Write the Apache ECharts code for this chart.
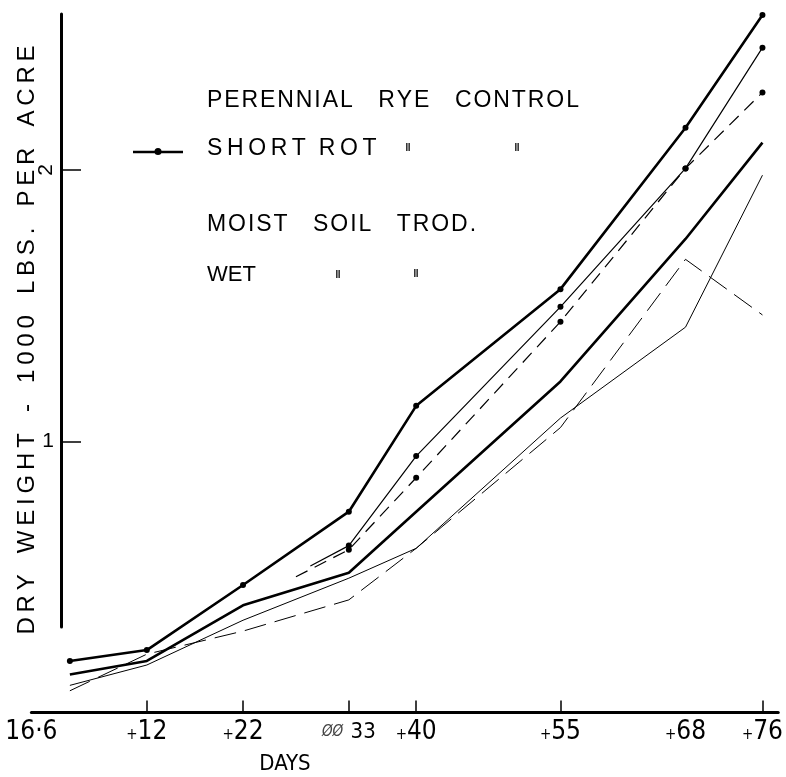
<!DOCTYPE html>
<html><head><meta charset="utf-8">
<script src="https://cdn.jsdelivr.net/npm/echarts@6/dist/echarts.min.js"></script>
<style>html,body{margin:0;padding:0;background:#fff}#c{width:786px;height:777px}</style>
</head><body><div id="c"></div>
<script>
// ---- data (days after 16·6, dry weight in 1000 lbs per acre) ----
const days = [4, 12, 22, 33, 40, 55, 68, 76];
const daysB = [29, 33, 40, 55, 68, 76];
const daysC = [27.5, 33, 40, 55, 68, 76];
const thickDotted = [0.19, 0.23, 0.47, 0.74, 1.13, 1.56, 2.155, 2.57];
const thinDotted = [0.54, 0.615, 0.945, 1.495, 2.005, 2.45];
const dashedDotted = [0.50, 0.60, 0.865, 1.44, 2.005, 2.285];
const thickPlain = [0.14, 0.19, 0.395, 0.515, 0.74, 1.22, 1.745, 2.10];
const thinPlain = [0.10, 0.175, 0.34, 0.495, 0.605, 1.085, 1.42, 1.98];
const dashedPlain = [0.08, 0.215, 0.30, 0.415, 0.605, 1.05, 1.67, 1.465];
const xTickDays = [12, 22, 33, 40, 55, 76];
const xLabelDays = [0, 12, 22, 33, 40, 55, 68, 76];
const xLabelText = {0: '16·6', 12: '+12', 22: '+22', 33: '33', 40: '+40', 55: '+55', 68: '+68', 76: '+76'};
const yTicks = [1, 2];

const FONT = "'Liberation Sans', Arial, sans-serif";
const NARROW = "'Liberation Sans Narrow', 'DejaVu Sans Condensed', 'Liberation Sans', sans-serif";
const yMax = 2.574;

function pts(xs, vs, firstDot) {
  return xs.map((d, i) => ({ value: [d, vs[i]], symbolSize: i >= firstDot ? 6 : 0 }));
}
function spaced(s, sep, wsep) {
  return s.split(' ').map(w => w.split('').join(sep)).join(wsep);
}

const chart = echarts.init(document.getElementById('c'), null, { renderer: 'canvas' });

const lineSeries = (name, data, width, type, sym) => ({
  name, type: 'line', xAxisIndex: 0, yAxisIndex: 0, data,
  symbol: sym ? 'circle' : 'none', showSymbol: !!sym,
  lineStyle: { color: '#000', width, type },
  itemStyle: { color: '#000' },
  silent: true
});

chart.setOption({
  animation: false,
  backgroundColor: '#fff',
  grid: [
    { left: 31.4, right: 0, top: 14, bottom: 64.5 },
    { left: 61, right: 0, top: 14, bottom: 150 }
  ],
  xAxis: [
    {
      gridIndex: 0, type: 'value', min: 0, max: 77.64,
      axisLine: { show: true, lineStyle: { color: '#000', width: 3 } },
      axisTick: { show: true, inside: true, length: 12, customValues: xTickDays, lineStyle: { color: '#000', width: 1.5 } },
      axisLabel: {
        show: true, customValues: xLabelDays, margin: 7, color: '#000', fontFamily: NARROW, fontSize: 26,
        formatter: v => {
          const t = xLabelText[v];
          if (v === 33) return '{s|ØØ} {m|33}';
          if (t && t[0] === '+') return '{p|+}{n|' + t.slice(1) + '}';
          return '{n|' + t + '}';
        },
        rich: {
          p: { fontSize: 15, fontFamily: NARROW, color: '#000', padding: [6, 0, 0, 0] },
          n: { fontSize: 26, fontFamily: NARROW, color: '#000' },
          m: { fontSize: 22, fontFamily: NARROW, color: '#000' },
          s: { fontSize: 15, fontStyle: 'italic', fontFamily: NARROW, color: '#444' }
        }
      },
      splitLine: { show: false }
    },
    { gridIndex: 1, type: 'value', min: 0, max: 77.64, show: false }
  ],
  yAxis: [
    { gridIndex: 0, type: 'value', min: 0, max: yMax, show: false },
    {
      gridIndex: 1, type: 'value', min: 0.317, max: yMax, position: 'left',
      axisLine: { show: true, onZero: false, lineStyle: { color: '#000', width: 3 } },
      axisTick: { show: true, inside: true, length: 20, customValues: yTicks, lineStyle: { color: '#000', width: 1.5 } },
      axisLabel: { show: true, customValues: [2], rotate: 90, margin: 4, color: '#000', fontFamily: FONT, fontSize: 21 },
      splitLine: { show: false }
    },
    {
      gridIndex: 1, type: 'value', min: 0.317, max: yMax, position: 'left',
      axisLine: { show: false, onZero: false },
      axisTick: { show: false },
      axisLabel: { show: true, customValues: [1], margin: 7, color: '#000', fontFamily: FONT, fontSize: 21 },
      splitLine: { show: false }
    }
  ],
  series: [
    lineSeries('Short rot', pts(days, thickDotted, 0), 2.6, 'solid', true),
    lineSeries('Series B', pts(daysB, thinDotted, 1), 1.2, 'solid', true),
    lineSeries('Series C', pts(daysC, dashedDotted, 1), 1.2, [13, 8], true),
    lineSeries('Series D', days.map((d, i) => [d, thickPlain[i]]), 2.6, 'solid', false),
    lineSeries('Series E', days.map((d, i) => [d, thinPlain[i]]), 1, 'solid', false),
    lineSeries('Series F', days.map((d, i) => [d, dashedPlain[i]]), 1, [22, 9], false)
  ],
  graphic: [
    { type: 'text', x: 27, y: 340, rotation: Math.PI / 2,
      style: { text: spaced('DRY WEIGHT - 1000 LBS. PER ACRE', '\u2009', '\u2009\u2009 \u2009'), fontSize: 24, fontFamily: FONT, fill: '#000', align: 'center', verticalAlign: 'middle' } },
    { type: 'text', x: 207, y: 101, style: { text: spaced('PERENNIAL  RYE  CONTROL', '\u200a', '  '), fontSize: 23, fontFamily: FONT, fill: '#000', align: 'left', verticalAlign: 'middle' } },
    { type: 'line', shape: { x1: 133, y1: 152, x2: 183, y2: 152 }, style: { stroke: '#000', lineWidth: 2.5 } },
    { type: 'circle', shape: { cx: 158, cy: 151.5, r: 3.5 }, style: { fill: '#000' } },
    { type: 'text', x: 207, y: 149, style: { text: spaced('SHORT ROT', '\u2009', '  '), fontSize: 23, fontFamily: FONT, fill: '#000', align: 'left', verticalAlign: 'middle' } },
    { type: 'text', x: 408, y: 148, style: { text: '\u2016', fontSize: 11, fontWeight: 'bold', fontFamily: FONT, fill: '#000', align: 'center', verticalAlign: 'middle' } },
    { type: 'text', x: 517, y: 148, style: { text: '\u2016', fontSize: 11, fontWeight: 'bold', fontFamily: FONT, fill: '#000', align: 'center', verticalAlign: 'middle' } },
    { type: 'text', x: 207, y: 225, style: { text: spaced('MOIST  SOIL  TROD.', '\u200a', '  '), fontSize: 23, fontFamily: FONT, fill: '#000', align: 'left', verticalAlign: 'middle' } },
    { type: 'text', x: 207, y: 275, style: { text: 'WET', fontSize: 22, fontFamily: FONT, fill: '#000', align: 'left', verticalAlign: 'middle' } },
    { type: 'text', x: 338, y: 275, style: { text: '\u2016', fontSize: 11, fontWeight: 'bold', fontFamily: FONT, fill: '#000', align: 'center', verticalAlign: 'middle' } },
    { type: 'text', x: 416, y: 274, style: { text: '\u2016', fontSize: 11, fontWeight: 'bold', fontFamily: FONT, fill: '#000', align: 'center', verticalAlign: 'middle' } },
    { type: 'text', x: 285, y: 764, style: { text: 'DAYS', fontSize: 22, fontFamily: NARROW, fill: '#000', align: 'center', verticalAlign: 'middle' } }
  ]
});
</script>
</body></html>
